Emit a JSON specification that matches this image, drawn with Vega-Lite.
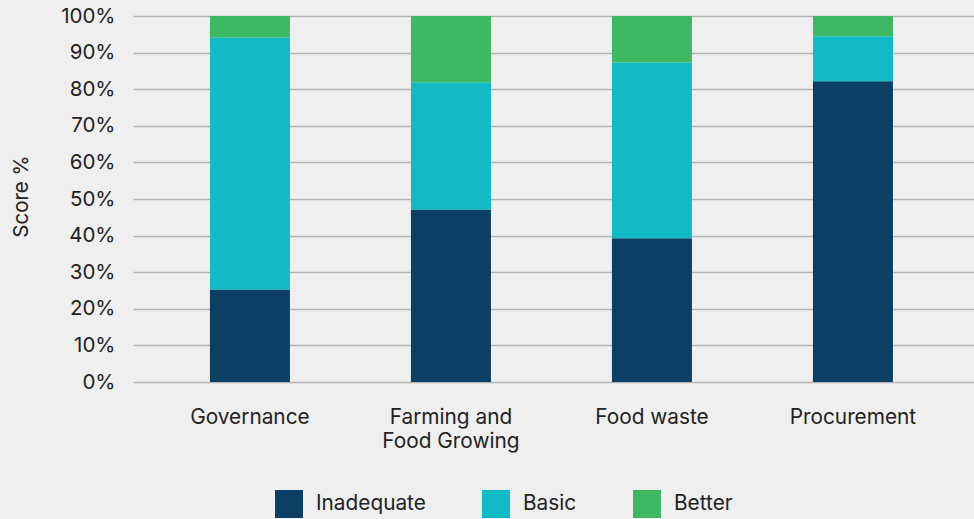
{
  "$schema": "https://vega.github.io/schema/vega-lite/v6.json",
  "autosize": {"type": "none"},
  "width": 841,
  "height": 366,
  "padding": {"left": 133, "top": 16, "right": 0, "bottom": 137},
  "background": "#efefef",
  "config": {
    "view": {"stroke": null},
    "font": "Inter",
    "axis": {"labelFont": "Inter", "titleFont": "Inter", "labelColor": "#222222", "titleColor": "#222222"},
    "legend": {"labelFont": "Inter", "labelColor": "#222222"}
  },
  "data": {
    "values": [
      {"area": "Governance", "level": "Inadequate", "rank": 1, "score": 25.3},
      {"area": "Governance", "level": "Basic", "rank": 2, "score": 68.8},
      {"area": "Governance", "level": "Better", "rank": 3, "score": 5.9},
      {"area": "Farming and Food Growing", "level": "Inadequate", "rank": 1, "score": 47.1},
      {"area": "Farming and Food Growing", "level": "Basic", "rank": 2, "score": 34.8},
      {"area": "Farming and Food Growing", "level": "Better", "rank": 3, "score": 18.1},
      {"area": "Food waste", "level": "Inadequate", "rank": 1, "score": 39.3},
      {"area": "Food waste", "level": "Basic", "rank": 2, "score": 48.0},
      {"area": "Food waste", "level": "Better", "rank": 3, "score": 12.7},
      {"area": "Procurement", "level": "Inadequate", "rank": 1, "score": 82.2},
      {"area": "Procurement", "level": "Basic", "rank": 2, "score": 12.3},
      {"area": "Procurement", "level": "Better", "rank": 3, "score": 5.5}
    ]
  },
  "mark": {"type": "bar"},
  "encoding": {
    "x": {
      "field": "area",
      "type": "nominal",
      "sort": ["Governance", "Farming and Food Growing", "Food waste", "Procurement"],
      "scale": {"paddingInner": 0.602, "paddingOuter": 0.393, "align": 0.487},
      "axis": {
        "title": null,
        "labelAngle": 0,
        "domain": false,
        "ticks": false,
        "labelFontSize": 20.8,
        "labelPadding": 25,
        "labelLineHeight": 24.5,
        "labelExpr": "datum.label == 'Farming and Food Growing' ? ['Farming and', 'Food Growing'] : datum.label"
      }
    },
    "y": {
      "field": "score",
      "type": "quantitative",
      "stack": "zero",
      "scale": {"domain": [0, 100], "nice": false},
      "axis": {
        "title": "Score %",
        "values": [0, 10, 20, 30, 40, 50, 60, 70, 80, 90, 100],
        "labelExpr": "datum.value + '%'",
        "domain": false,
        "ticks": false,
        "labelPadding": 18,
        "labelFontSize": 20.5,
        "titleFontSize": 20.5,
        "titleFontWeight": "normal",
        "titleX": -112,
        "titleY": 180,
        "titleBaseline": "middle",
        "gridColor": "#b3b3b3",
        "gridWidth": 1.5
      }
    },
    "color": {
      "field": "level",
      "type": "nominal",
      "scale": {"domain": ["Inadequate", "Basic", "Better"], "range": ["#0b3f63", "#10bbc6", "#3db863"]},
      "legend": {
        "title": null,
        "orient": "none",
        "direction": "horizontal",
        "legendX": 142,
        "legendY": 474,
        "padding": 0,
        "symbolType": "square",
        "symbolSize": 784,
        "symbolStrokeWidth": 0,
        "symbolOpacity": 1,
        "labelFontSize": 20.8,
        "labelOffset": 13,
        "columnPadding": 56
      }
    },
    "order": {"field": "rank", "type": "quantitative", "sort": "ascending"}
  }
}
